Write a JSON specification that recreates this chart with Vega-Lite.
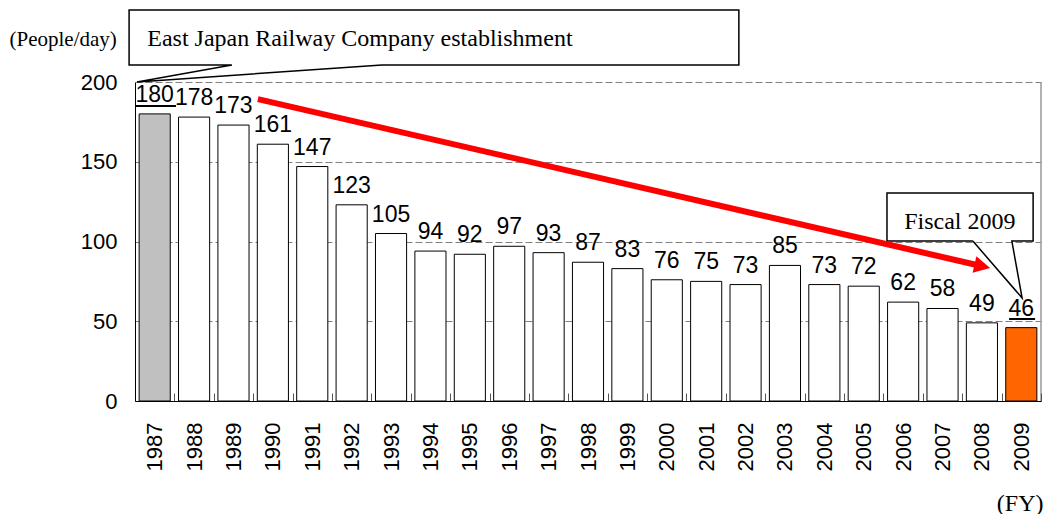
{
  "$schema": "https://vega.github.io/schema/vega-lite/v6.json",
  "width": 906,
  "height": 319,
  "autosize": "none",
  "padding": {"left": 135, "top": 82, "right": 3, "bottom": 113},
  "background": "#ffffff",
  "config": {"view": {"stroke": null}, "font": "Liberation Sans"},
  "datasets": {
    "riders": [
      {"year": 1987, "value": 180}, {"year": 1988, "value": 178}, {"year": 1989, "value": 173},
      {"year": 1990, "value": 161}, {"year": 1991, "value": 147}, {"year": 1992, "value": 123},
      {"year": 1993, "value": 105}, {"year": 1994, "value": 94}, {"year": 1995, "value": 92},
      {"year": 1996, "value": 97}, {"year": 1997, "value": 93}, {"year": 1998, "value": 87},
      {"year": 1999, "value": 83}, {"year": 2000, "value": 76}, {"year": 2001, "value": 75},
      {"year": 2002, "value": 73}, {"year": 2003, "value": 85}, {"year": 2004, "value": 73},
      {"year": 2005, "value": 72}, {"year": 2006, "value": 62}, {"year": 2007, "value": 58},
      {"year": 2008, "value": 49}, {"year": 2009, "value": 46}
    ],
    "outlines": [
      {"shape": "a", "i": 0, "x": 1988.96, "y": 210.7},
      {"shape": "a", "i": 1, "x": 1986.35, "y": 210.7},
      {"shape": "a", "i": 2, "x": 1986.35, "y": 245.1},
      {"shape": "a", "i": 3, "x": 2001.83, "y": 245.1},
      {"shape": "a", "i": 4, "x": 2001.83, "y": 210.7},
      {"shape": "a", "i": 5, "x": 1992.77, "y": 210.7},
      {"shape": "a", "i": 6, "x": 1986.55, "y": 200},
      {"shape": "a", "i": 7, "x": 1988.96, "y": 210.7},
      {"shape": "b", "i": 0, "x": 2007.77, "y": 100.3},
      {"shape": "b", "i": 1, "x": 2005.59, "y": 100.3},
      {"shape": "b", "i": 2, "x": 2005.59, "y": 130.4},
      {"shape": "b", "i": 3, "x": 2009.3, "y": 130.4},
      {"shape": "b", "i": 4, "x": 2009.3, "y": 100.3},
      {"shape": "b", "i": 5, "x": 2008.76, "y": 100.3},
      {"shape": "b", "i": 6, "x": 2009.02, "y": 64.6},
      {"shape": "b", "i": 7, "x": 2007.77, "y": 100.3}
    ],
    "notes": [
      {"label": "East Japan Railway Company establishment", "x": 1992.21, "y": 227},
      {"label": "Fiscal 2009", "x": 2007.44, "y": 112.2}
    ],
    "underlines": [
      {"x": 1986.5, "x2": 1987.54, "y": 185},
      {"x": 2008.69, "x2": 2009.35, "y": 51.4}
    ],
    "arrow": [
      {"x": 1989.62, "y": 189.3, "x2": 2008.01, "y2": 84.5}
    ]
  },
  "layer": [
    {
      "data": {"name": "riders"},
      "encoding": {
        "x": {
          "field": "year", "type": "ordinal",
          "scale": {"paddingInner": 0.21, "paddingOuter": 0.105},
          "axis": {
            "title": "(FY)", "titleFont": "Liberation Serif", "titleFontSize": 24, "titleFontWeight": "normal",
            "titleColor": "#000000", "titleAnchor": "end", "titleAlign": "right", "titleBaseline": "middle",
            "titleX": 908, "titleY": 102,
            "labelAngle": -90, "labelAlign": "right", "labelBaseline": "middle",
            "labelFontSize": 22, "labelColor": "#000000", "labelPadding": 29, "labelOffset": -19.7,
            "domainColor": "#000000", "domainWidth": 1,
            "ticks": true, "tickSize": -8, "tickOffset": 19.7, "tickColor": "#555555", "tickWidth": 1,
            "grid": false, "zindex": 1
          }
        },
        "y": {
          "field": "value", "type": "quantitative",
          "scale": {"domain": [0, 200], "nice": false},
          "axis": {
            "title": "(People/day)", "titleFont": "Liberation Serif", "titleFontSize": 21, "titleFontWeight": "normal",
            "titleColor": "#000000", "titleAngle": 0, "titleAlign": "left", "titleBaseline": "middle",
            "titleX": -126, "titleY": -43,
            "values": [0, 50, 100, 150, 200],
            "labelFontSize": 22, "labelColor": "#000000", "labelPadding": 18,
            "ticks": false, "domainColor": "#000000", "domainWidth": 1,
            "grid": true, "gridColor": "#808080", "gridDash": [7, 3], "gridWidth": 1
          }
        }
      },
      "layer": [
        {
          "mark": {"type": "bar", "stroke": "#000000", "strokeWidth": 1},
          "encoding": {
            "fill": {
              "condition": [
                {"test": "datum.year == 1987", "value": "#C0C0C0"},
                {"test": "datum.year == 2009", "value": "#FF6600"}
              ],
              "value": "#FFFFFF"
            }
          }
        },
        {
          "mark": {"type": "text", "baseline": "alphabetic", "dy": -12, "fontSize": 23, "font": "Liberation Sans", "color": "#000000"},
          "encoding": {"text": {"field": "value", "type": "quantitative"}}
        }
      ]
    },
    {
      "data": {"name": "outlines"},
      "mark": {"type": "line", "color": "#000000", "strokeWidth": 1.5, "clip": false},
      "encoding": {
        "x": {"field": "x", "type": "quantitative", "scale": {"domain": [1986.5, 2009.5], "nice": false, "zero": false}, "axis": null},
        "y": {"field": "y", "type": "quantitative", "axis": null},
        "detail": {"field": "shape", "type": "nominal"},
        "order": {"field": "i", "type": "quantitative"}
      }
    },
    {
      "data": {"name": "notes"},
      "mark": {"type": "text", "font": "Liberation Serif", "fontSize": 24, "color": "#000000", "align": "center", "baseline": "middle"},
      "encoding": {
        "x": {"field": "x", "type": "quantitative", "scale": {"domain": [1986.5, 2009.5], "nice": false, "zero": false}, "axis": null},
        "y": {"field": "y", "type": "quantitative", "axis": null},
        "text": {"field": "label", "type": "nominal"}
      }
    },
    {
      "data": {"name": "underlines"},
      "mark": {"type": "rule", "color": "#000000", "strokeWidth": 2},
      "encoding": {
        "x": {"field": "x", "type": "quantitative", "scale": {"domain": [1986.5, 2009.5], "nice": false, "zero": false}, "axis": null},
        "x2": {"field": "x2"},
        "y": {"field": "y", "type": "quantitative", "axis": null}
      }
    },
    {
      "data": {"name": "arrow"},
      "layer": [
        {
          "mark": {"type": "rule", "color": "#FF0000", "strokeWidth": 6},
          "encoding": {
            "x": {"field": "x", "type": "quantitative", "scale": {"domain": [1986.5, 2009.5], "nice": false, "zero": false}, "axis": null},
            "x2": {"field": "x2"},
            "y": {"field": "y", "type": "quantitative", "axis": null},
            "y2": {"field": "y2"}
          }
        },
        {
          "mark": {"type": "point", "shape": "M1,0 L-1,-1.06 L-1,1.06 Z", "size": 256, "filled": true, "color": "#FF0000", "opacity": 1, "angle": 13},
          "encoding": {
            "x": {"field": "x2", "type": "quantitative", "scale": {"domain": [1986.5, 2009.5], "nice": false, "zero": false}, "axis": null},
            "y": {"field": "y2", "type": "quantitative", "axis": null}
          }
        }
      ]
    },
    {
      "data": {"values": [{}]},
      "mark": {"type": "rule", "color": "#999999", "strokeWidth": 1.5},
      "encoding": {
        "x": {"datum": 2009.5, "type": "quantitative", "scale": {"domain": [1986.5, 2009.5], "nice": false, "zero": false}, "axis": null},
        "y": {"datum": 0, "type": "quantitative", "axis": null},
        "y2": {"datum": 200}
      }
    }
  ],
  "resolve": {"scale": {"x": "independent"}, "axis": {"y": "independent"}}
}
